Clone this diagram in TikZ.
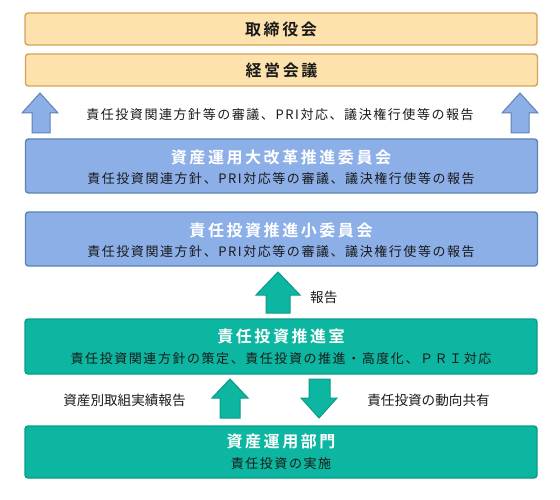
\documentclass[tikz,border=0pt]{standalone}
\usepackage{fontspec}
\setmainfont{Noto Sans CJK JP}
\newfontfamily\cjkbody[LetterSpace=12]{Noto Sans CJK JP}
\newfontfamily\cjktitle[LetterSpace=16]{Noto Sans CJK JP}[BoldFont={* Bold}]
\definecolor{orfill}{HTML}{FEE2AD}
\definecolor{ordraw}{HTML}{D6A258}
\definecolor{blfill}{HTML}{8CAFE8}
\definecolor{bldraw}{HTML}{5B83B3}
\definecolor{grfill}{HTML}{0CB6A0}
\definecolor{grdraw}{HTML}{0A9C88}
\definecolor{txt}{HTML}{1A1A1A}
\tikzset{
  box/.style={rounded corners=3pt, line width=1.4pt, minimum width=512pt, inner sep=0pt},
  obox/.style={box, fill=orfill, draw=ordraw, minimum height=32pt, text=txt, font=\cjktitle\fontsize{16}{18}\selectfont\bfseries},
  bbox/.style={box, fill=blfill, draw=bldraw, minimum height=54pt},
  gbox/.style={box, fill=grfill, draw=grdraw, minimum height=54pt},
  ttlnode/.style={inner sep=0pt, text=white, font=\cjktitle\fontsize{16}{18}\selectfont\bfseries},
  sbtnode/.style={inner sep=0pt, text=txt, font=\cjkbody\fontsize{13}{15}\selectfont},
  barrow/.style={fill=blfill, draw=bldraw, line width=1pt, line join=miter},
  garrow/.style={fill=grfill, draw=grdraw, line width=1pt, line join=miter},
  lbl/.style={text=txt, font=\fontsize{13.6}{15}\selectfont, inner sep=0pt},
}
\begin{document}
\begin{tikzpicture}[x=1pt,y=-1pt]
\useasboundingbox (0,0) rectangle (560,500);
\node[obox] (b1) at (281,29) {取締役会};
\node[obox] (b2) at (281.5,70) {経営会議};
\node[bbox] (b3) at (281.5,166) {};
\node[ttlnode] (b3t) at (281,157.5) {資産運用大改革推進委員会};
\node[sbtnode] (b3s) at (281,179) {責任投資関連方針、PRI対応等の審議、議決権行使等の報告};
\node[bbox] (b4) at (281.5,239) {};
\node[ttlnode] (b4t) at (281,230.5) {責任投資推進小委員会};
\node[sbtnode] (b4s) at (281,251.5) {責任投資関連方針、PRI対応等の審議、議決権行使等の報告};
\node[gbox, minimum height=55pt] (b5) at (281,346.5) {};
\node[ttlnode] (b5t) at (281,336.5) {責任投資推進室};
\node[sbtnode] (b5s) at (281,358.5) {責任投資関連方針の策定、責任投資の推進・高度化、ＰＲＩ対応};
\node[gbox, minimum height=52pt] (b6) at (281,452) {};
\node[ttlnode] (b6t) at (281,441.5) {資産運用部門};
\node[sbtnode] (b6s) at (281,464) {責任投資の実施};
% blue arrows
\draw[barrow] (40,93) -- (58,113) -- (50,113) -- (50,133) -- (32,133) -- (32,113) -- (22,113) -- cycle;
\draw[barrow] (520,93) -- (538,113) -- (529,113) -- (529,133) -- (511,133) -- (511,113) -- (502,113) -- cycle;
\node[sbtnode] (t1) at (280,115) {責任投資関連方針等の審議、PRI対応、議決権行使等の報告};
% green arrows
\draw[garrow] (278,272) -- (300,295) -- (290,295) -- (290,313) -- (266,313) -- (266,295) -- (256,295) -- cycle;
\node[lbl, anchor=west] (t2) at (310,297) {報告};
\draw[garrow] (230,379) -- (248,398) -- (240,398) -- (240,418) -- (220,418) -- (220,398) -- (212,398) -- cycle;
\draw[garrow] (319,418) -- (337,398) -- (330,398) -- (330,379) -- (309,379) -- (309,398) -- (301,398) -- cycle;
\node[lbl] (t3) at (124.5,400) {資産別取組実績報告};
\node[lbl] (t4) at (428.5,400) {責任投資の動向共有};
\end{tikzpicture}
\end{document}
